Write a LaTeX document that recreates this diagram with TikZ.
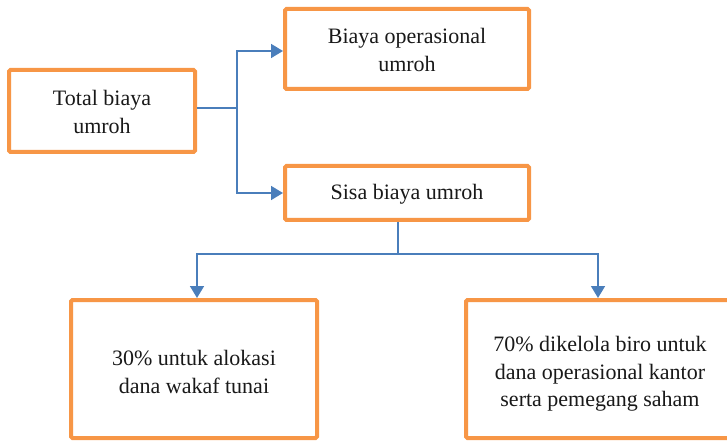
\documentclass[tikz,border=0pt]{standalone}
\usepackage{fontspec}
\setmainfont{Liberation Serif}
\usetikzlibrary{arrows.meta}
\definecolor{boxorange}{HTML}{F79646}
\definecolor{linkblue}{HTML}{4A7EBB}
\begin{document}
\begin{tikzpicture}[x=1pt,y=-1pt,
  box/.style={draw=boxorange,line width=4pt,rounded corners=1.5pt,fill=white},
  label/.style={align=center,font=\fontsize{22}{27.5}\selectfont,text=black!90},
  link/.style={draw=linkblue,line width=1.6pt},
  tip/.style={-{Triangle[length=12pt,width=14pt]}}]
\useasboundingbox (0,0) rectangle (727,443);
% boxes
\draw[box] (9,70) rectangle (195,152);
\draw[box] (285,9) rectangle (529,89);
\draw[box] (285,166) rectangle (529,220);
\draw[box] (71,300) rectangle (317,438);
\draw[box] (466,300) rectangle (740,438);
% labels
\node[label] (total) at (102,112) {Total biaya\\umroh};
\node[label] (ops) at (407,50) {Biaya operasional\\umroh};
\node[label] (sisa) at (407,194) {Sisa biaya umroh};
\node[label] (wakaf) at (194,372) {30\% untuk alokasi\\dana wakaf tunai};
\node[label] (biro) at (600,374) {70\% dikelola biro untuk\\dana operasional kantor\\serta pemegang saham};
% anchor points on the box borders
\coordinate (totalR) at (197,108);
\coordinate (opsL) at (283,51);
\coordinate (sisaL) at (283,193);
\coordinate (sisaB) at (398,222);
\coordinate (wakafT) at (197,298);
\coordinate (biroT) at (598,298);
\coordinate (split) at (237,108);
\coordinate (fork) at (398,254);
% connectors
\draw[link] (totalR) -- (split);
\draw[link,tip] (split) |- (opsL);
\draw[link,tip] (split) |- (sisaL);
\draw[link] (sisaB) -- (fork);
\draw[link,tip] (fork) -| (wakafT);
\draw[link,tip] (fork) -| (biroT);
\end{tikzpicture}
\end{document}
